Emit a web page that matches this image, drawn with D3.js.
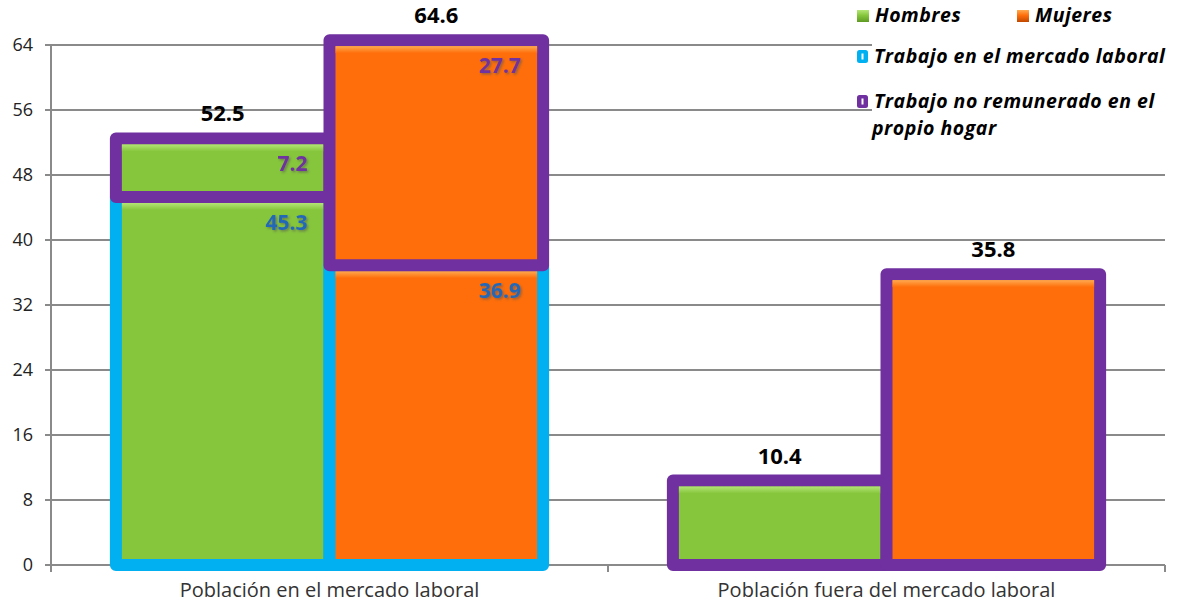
<!DOCTYPE html>
<html><head><meta charset="utf-8">
<script src="https://cdn.jsdelivr.net/npm/d3@7"></script>
<style>
html,body{margin:0;padding:0;background:#fff;}
svg{display:block;font-family:"Open Sans","Noto Sans",sans-serif;}
</style></head>
<body><svg id="c" width="1185" height="604"></svg>
<script>
// ---- data ----
const categories = ["Población en el mercado laboral", "Población fuera del mercado laboral"];
const sexes = ["Hombres", "Mujeres"];
const hombresMercado = [45.3, 0];
const hombresNoRemunerado = [7.2, 10.4];
const mujeresMercado = [36.9, 0];
const mujeresNoRemunerado = [27.7, 35.8];
const yTicks = [0, 8, 16, 24, 32, 40, 48, 56, 64];
const legendSexes = ["Hombres", "Mujeres"];
const legendTrabajo = ["Trabajo en el mercado laboral", "Trabajo no remunerado en el propio hogar"];

(function () {
// ---- setup ----
const svg = d3.select("#c");
const pLeft = 51, pRight = 1165, pTop = 45, pBottom = 565;
const y = d3.scaleLinear().domain([0, 64]).range([pBottom, pTop]);
const x0 = d3.scaleBand().domain(categories).range([pLeft, pRight]).paddingInner(0).paddingOuter(0);
const groupW = x0.bandwidth() * 0.767;
const x1 = d3.scaleBand().domain(sexes)
  .range([(x0.bandwidth() - groupW) / 2, (x0.bandwidth() + groupW) / 2]);

const fills = {Hombres: "#86C63C", Mujeres: "#FF6E0A"};
const highlights = {Hombres: "#B4E676", Mujeres: "#FFAA50"};
const strokes = {mercado: "#00B0F0", hogar: "#7030A0"};
const labelColors = {mercado: "#2468B8", hogar: "#7030A0"};

const defs = svg.append("defs");
sexes.forEach(s => {
  const g = defs.append("linearGradient").attr("id", "hl" + s).attr("x1", 0).attr("y1", 0).attr("x2", 0).attr("y2", 1);
  g.append("stop").attr("offset", "0%").attr("stop-color", highlights[s]);
  g.append("stop").attr("offset", "100%").attr("stop-color", fills[s]);
  const ic = defs.append("linearGradient").attr("id", "ic" + s).attr("x1", 0).attr("y1", 0).attr("x2", 0).attr("y2", 1);
  ic.append("stop").attr("offset", "0%").attr("stop-color", highlights[s]);
  ic.append("stop").attr("offset", "45%").attr("stop-color", fills[s]);
  ic.append("stop").attr("offset", "100%").attr("stop-color", s === "Hombres" ? "#5E9A22" : "#C04800");
});
const sh = defs.append("filter").attr("id", "shadow").attr("x", "-20%").attr("y", "-20%").attr("width", "150%").attr("height", "150%");
sh.append("feDropShadow").attr("dx", 1.5).attr("dy", 1.5).attr("stdDeviation", 1).attr("flood-color", "#555").attr("flood-opacity", 0.6);

// ---- grid + axes ----
const grid = svg.append("g");
grid.selectAll("line.g").data(yTicks).join("line")
  .attr("x1", pLeft - 6).attr("x2", pRight)
  .attr("y1", d => y(d)).attr("y2", d => y(d))
  .attr("stroke", "#8a8a8a").attr("stroke-width", 2);
grid.append("line").attr("x1", pLeft).attr("x2", pLeft).attr("y1", pTop).attr("y2", pBottom + 7)
  .attr("stroke", "#8a8a8a").attr("stroke-width", 2);
[x0.range()[0] + x0.bandwidth(), pRight].forEach(xx => {
  grid.append("line").attr("x1", xx).attr("x2", xx).attr("y1", pBottom).attr("y2", pBottom + 7)
    .attr("stroke", "#8a8a8a").attr("stroke-width", 2);
});
svg.append("g").selectAll("text").data(yTicks).join("text")
  .attr("x", 33).attr("y", d => y(d)).attr("dy", "0.35em")
  .attr("text-anchor", "end").attr("font-size", 18).attr("fill", "#222")
  .text(d => d);
svg.append("g").selectAll("text").data(categories).join("text")
  .attr("x", d => x0(d) + x0.bandwidth() / 2).attr("y", 597)
  .attr("text-anchor", "middle").attr("font-size", 20).attr("fill", "#333")
  .text(d => d);

// ---- bars ----
const segs = [];
categories.forEach((c, i) => {
  const vals = {
    Hombres: [hombresMercado[i], hombresNoRemunerado[i]],
    Mujeres: [mujeresMercado[i], mujeresNoRemunerado[i]]
  };
  sexes.forEach(s => {
    const [m, h] = vals[s];
    if (m > 0) segs.push({cat: c, sex: s, kind: "mercado", y0: 0, y1: m, v: m, stacked: h > 0});
    if (h > 0) segs.push({cat: c, sex: s, kind: "hogar", y0: m, y1: m + h, v: h, stacked: m > 0});
  });
});
const order = ["mercado", "hogar"];
segs.sort((a, b) => order.indexOf(a.kind) - order.indexOf(b.kind));

const bars = svg.append("g");
const sw = 12;
segs.forEach(d => {
  const bx = x0(d.cat) + x1(d.sex), bw = x1.bandwidth();
  const yt = y(d.y1), yb = y(d.y0);
  bars.append("rect").attr("x", bx).attr("y", yt).attr("width", bw).attr("height", yb - yt)
    .attr("fill", fills[d.sex]).attr("stroke", strokes[d.kind]).attr("stroke-width", sw)
    .attr("stroke-linejoin", "round");
  bars.append("rect").attr("x", bx + sw / 2).attr("y", yt + sw / 2).attr("width", bw - sw).attr("height", 7)
    .attr("fill", "url(#hl" + d.sex + ")");
});

// segment labels (only for stacked bars)
const segLab = svg.append("g").attr("filter", "url(#shadow)");
segs.filter(d => d.stacked).forEach(d => {
  const bx = x0(d.cat) + x1(d.sex), bw = x1.bandwidth();
  segLab.append("text").attr("x", bx + bw - 22).attr("y", y(d.y1) + 33)
    .attr("text-anchor", "end").attr("font-size", 21).attr("font-weight", "bold")
    .attr("fill", labelColors[d.kind]).text(d.v.toFixed(1));
});

// totals
const totals = [];
categories.forEach((c, i) => {
  totals.push({cat: c, sex: "Hombres", v: hombresMercado[i] + hombresNoRemunerado[i]});
  totals.push({cat: c, sex: "Mujeres", v: mujeresMercado[i] + mujeresNoRemunerado[i]});
});
svg.append("g").selectAll("text").data(totals).join("text")
  .attr("x", d => x0(d.cat) + x1(d.sex) + x1.bandwidth() / 2)
  .attr("y", d => y(d.v) - 17)
  .attr("text-anchor", "middle").attr("font-size", 22).attr("font-weight", "bold").attr("fill", "#000")
  .text(d => d.v.toFixed(1));

// ---- legend ----
const lg = svg.append("g");
lg.append("rect").attr("x", 872).attr("y", 32).attr("width", 313).attr("height", 118).attr("fill", "#fff");
const lsize = 19.5, lsp = 0.5;
const sexX = [857, 1017];
legendSexes.forEach((s, i) => {
  lg.append("rect").attr("x", sexX[i]).attr("y", 10).attr("width", 12).attr("height", 12)
    .attr("fill", "url(#ic" + s + ")");
  lg.append("text").attr("x", sexX[i] + 18).attr("y", 22).attr("font-size", lsize).attr("letter-spacing", lsp)
    .attr("font-weight", "bold").attr("font-style", "italic").attr("fill", "#000").text(s);
});
const trY = [63, 108];
const trCol = [strokes.mercado, strokes.hogar];
legendTrabajo.forEach((t, i) => {
  lg.append("rect").attr("x", 857).attr("y", trY[i] - 13).attr("width", 11).attr("height", 13)
    .attr("rx", 2.5).attr("fill", trCol[i]);
  lg.append("rect").attr("x", 861.5).attr("y", trY[i] - 9.5).attr("width", 2).attr("height", 6)
    .attr("fill", "#fff");
  const tx = lg.append("text").attr("x", 874).attr("y", trY[i]).attr("font-size", lsize).attr("letter-spacing", lsp)
    .attr("font-weight", "bold").attr("font-style", "italic").attr("fill", "#000");
  if (i === 1) {
    tx.append("tspan").text("Trabajo no remunerado en el");
    tx.append("tspan").attr("x", 872).attr("dy", 27).text("propio hogar");
  } else tx.text(t);
});
})();
</script></body></html>
